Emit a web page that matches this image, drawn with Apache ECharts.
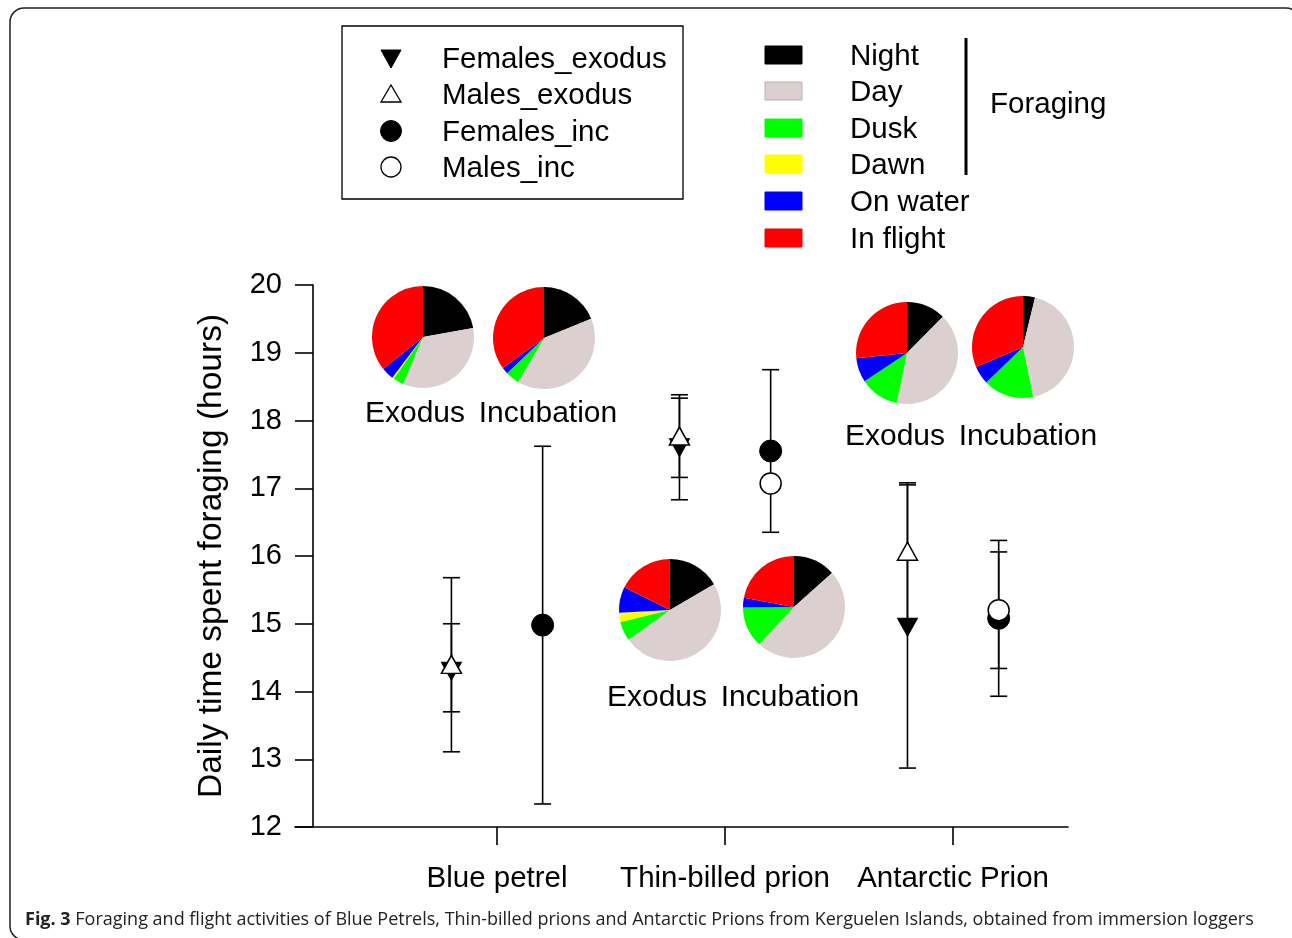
<!DOCTYPE html>
<html>
<head>
<meta charset="utf-8">
<script src="https://cdn.jsdelivr.net/npm/echarts@6/dist/echarts.min.js"></script>
<style>
html,body{margin:0;padding:0;background:#fff;}
#main{width:1292px;height:938px;}
</style>
</head>
<body>
<div id="main"></div>
<script>
// ---------- data ----------
const categories = ['Blue petrel', 'Thin-billed prion', 'Antarctic Prion'];
const yTicks = [12, 13, 14, 15, 16, 17, 18, 19, 20];

const femalesExodus     = [14.30, 17.60, 14.95];
const femalesExodusLow  = [13.70, 16.83, 12.87];
const femalesExodusHigh = [15.00, 18.38, 17.05];

const malesExodus     = [14.40, 17.77, 16.07];
const malesExodusLow  = [13.11, 17.16, 15.07];
const malesExodusHigh = [15.68, 18.33, 17.08];

const femalesInc     = [14.98, 17.55, 15.08];
const femalesIncLow  = [12.34, 16.35, 13.93];
const femalesIncHigh = [17.62, 18.75, 16.23];

const malesInc     = [null, 17.07, 15.20];
const malesIncLow  = [null, null, 14.34];
const malesIncHigh = [null, null, 16.06];

const activityNames = ['Night', 'Day', 'Dusk', 'Dawn', 'On water', 'In flight'];
const blueExodusPie       = [22.2, 34.2, 3.3, 0.6, 3.9, 35.8];
const blueIncubationPie   = [18.8, 39.6, 4.4, 0.0, 2.1, 35.0];
const thinExodusPie       = [16.6, 48.6, 6.1, 2.9, 8.2, 17.7];
const thinIncubationPie   = [13.4, 48.6, 12.9, 0.0, 3.1, 22.1];
const antExodusPie        = [12.4, 40.9, 12.4, 0.0, 7.7, 26.7];
const antIncubationPie    = [3.8, 43.0, 16.0, 0.0, 5.8, 31.4];

const markerLegend = ['Females_exodus', 'Males_exodus', 'Females_inc', 'Males_inc'];
const pieLabels = ['Exodus', 'Incubation'];
const foragingLabel = 'Foraging';
const yAxisTitle = 'Daily time spent foraging (hours)';
const captionBold = 'Fig. 3';
const captionText = 'Foraging and flight activities of Blue Petrels, Thin-billed prions and Antarctic Prions from Kerguelen Islands, obtained from immersion loggers';

// ---------- styles ----------
const FONT = '"Liberation Sans", Arial, sans-serif';
const activityColors = ['#000000', '#DCCFCF', '#00FF00', '#FFFF00', '#0000FF', '#FF0000'];
const SHIFT = 0.2; // horizontal offset of exodus / incubation groups

function pts(vals, shift) {
  const out = [];
  vals.forEach((v, i) => { if (v != null) out.push([i + 1 + shift, v]); });
  return out;
}
function bars(lows, highs, shift) {
  const out = [];
  lows.forEach((l, i) => { if (l != null && highs[i] != null) out.push([i + 1 + shift, l, highs[i]]); });
  return out;
}
function errSeries(data) {
  return {
    type: 'custom',
    z: 2,
    silent: true,
    data: data,
    encode: { x: 0, y: [1, 2] },
    renderItem: function (params, api) {
      const x = api.value(0);
      const lo = api.coord([x, api.value(1)]);
      const hi = api.coord([x, api.value(2)]);
      const w = 8.5;
      const st = { stroke: '#000', lineWidth: 1.6 };
      return {
        type: 'group',
        children: [
          { type: 'line', shape: { x1: lo[0], y1: lo[1], x2: hi[0], y2: hi[1] }, style: st },
          { type: 'line', shape: { x1: lo[0] - w, y1: lo[1], x2: lo[0] + w, y2: lo[1] }, style: st },
          { type: 'line', shape: { x1: hi[0] - w, y1: hi[1], x2: hi[0] + w, y2: hi[1] }, style: st }
        ]
      };
    }
  };
}
function pieSeries(vals, cx, cy) {
  return {
    type: 'pie',
    center: [cx, cy],
    radius: 51,
    startAngle: 90,
    clockwise: true,
    silent: true,
    label: { show: false },
    labelLine: { show: false },
    itemStyle: { borderWidth: 0 },
    data: vals.map((v, i) => ({ name: activityNames[i], value: v, itemStyle: { color: activityColors[i] } }))
  };
}
function txt(x, y, text, size, align) {
  return { type: 'text', x: x, y: y, style: { text: text, font: size + 'px ' + FONT, fill: '#000', align: align || 'left', verticalAlign: 'middle' } };
}

const graphics = [];
// outer frame
graphics.push({ type: 'rect', shape: { x: 10, y: 8, width: 1290, height: 932, r: 14 }, style: { fill: 'none', stroke: '#222', lineWidth: 1.5 } });
// marker legend box
graphics.push({ type: 'rect', shape: { x: 342, y: 26, width: 341, height: 173 }, style: { fill: 'none', stroke: '#000', lineWidth: 1.3 } });
const legRows = [60, 96, 133, 169];
// down filled triangle
graphics.push({ type: 'polygon', shape: { points: [[381, 50], [401, 50], [391, 68]] }, style: { fill: '#000', stroke: '#000', lineWidth: 1 } });
// up open triangle
graphics.push({ type: 'polygon', shape: { points: [[381, 102], [401, 102], [391, 85]] }, style: { fill: '#fff', stroke: '#000', lineWidth: 1.3 } });
graphics.push({ type: 'circle', shape: { cx: 391, cy: 131, r: 10.5 }, style: { fill: '#000', stroke: '#000' } });
graphics.push({ type: 'circle', shape: { cx: 391, cy: 167, r: 10 }, style: { fill: '#fff', stroke: '#000', lineWidth: 1.3 } });
markerLegend.forEach((t, i) => graphics.push(txt(442, legRows[i], t, 29.5)));
// color legend
const colRows = [55, 91, 128, 164, 201, 238];
activityNames.forEach((n, i) => {
  graphics.push({ type: 'rect', shape: { x: 765, y: colRows[i] - 9, width: 37, height: 18 }, style: { fill: activityColors[i], stroke: i === 1 ? '#b9aeae' : activityColors[i], lineWidth: 1 } });
  graphics.push(txt(850, colRows[i] + 2, n, 29.5));
});
graphics.push({ type: 'line', shape: { x1: 966, y1: 38, x2: 966, y2: 175 }, style: { stroke: '#000', lineWidth: 3 } });
graphics.push(txt(990, 105, foragingLabel, 29.5));
// pie labels
graphics.push(txt(415, 414, pieLabels[0], 30, 'center'));
graphics.push(txt(548, 414, pieLabels[1], 30, 'center'));
graphics.push(txt(657, 698, pieLabels[0], 30, 'center'));
graphics.push(txt(790, 698, pieLabels[1], 30, 'center'));
graphics.push(txt(895, 437, pieLabels[0], 30, 'center'));
graphics.push(txt(1028, 437, pieLabels[1], 30, 'center'));
// caption
graphics.push({
  type: 'text', x: 25, y: 920,
  style: {
    text: '{b|' + captionBold + '} ' + captionText,
    font: '18px "Open Sans", sans-serif', fill: '#222', verticalAlign: 'middle',
    rich: { b: { font: 'bold 18px "Open Sans", sans-serif', fill: '#222' } }
  }
});

const chart = echarts.init(document.getElementById('main'));
chart.setOption({
  backgroundColor: '#fff',
  animation: false,
  grid: { left: 295, top: 285, right: 224, bottom: 111, containLabel: false },
  xAxis: {
    type: 'value',
    min: 0.114,
    max: 3.504,
    axisLine: { show: true, onZero: false, lineStyle: { color: '#000', width: 1.6 } },
    axisTick: { show: true, customValues: [1, 2, 3], length: 18, lineStyle: { color: '#000', width: 1.6 } },
    axisLabel: {
      show: true, customValues: [1, 2, 3], margin: 37,
      formatter: v => categories[Math.round(v) - 1] || '',
      color: '#000', fontSize: 29.5, fontFamily: FONT
    },
    splitLine: { show: false }
  },
  yAxis: {
    type: 'value',
    min: 12, max: 20, interval: 1,
    offset: -18,
    name: yAxisTitle,
    nameLocation: 'middle',
    nameGap: 84,
    nameRotate: 90,
    nameTextStyle: { color: '#000', fontSize: 33.5, fontFamily: FONT },
    axisLine: { show: true, onZero: false, lineStyle: { color: '#000', width: 1.6 } },
    axisTick: { show: true, length: 18, lineStyle: { color: '#000', width: 1.6 } },
    axisLabel: { margin: 31, color: '#000', fontSize: 29, fontFamily: FONT },
    splitLine: { show: false }
  },
  graphic: graphics,
  series: [
    errSeries(bars(femalesExodusLow, femalesExodusHigh, -SHIFT)),
    errSeries(bars(malesExodusLow, malesExodusHigh, -SHIFT)),
    errSeries(bars(femalesIncLow, femalesIncHigh, SHIFT)),
    errSeries(bars(malesIncLow, malesIncHigh, SHIFT)),
    { name: markerLegend[0], type: 'scatter', z: 3, data: pts(femalesExodus, -SHIFT), symbol: 'triangle', symbolRotate: 180, symbolSize: [20, 18], itemStyle: { color: '#000', borderColor: '#000', borderWidth: 1, opacity: 1 } },
    { name: markerLegend[1], type: 'scatter', z: 4, data: pts(malesExodus, -SHIFT), symbol: 'triangle', symbolSize: [20, 18], itemStyle: { color: '#fff', borderColor: '#000', borderWidth: 1.5, opacity: 1 } },
    { name: markerLegend[2], type: 'scatter', z: 3, data: pts(femalesInc, SHIFT), symbol: 'circle', symbolSize: 22, itemStyle: { color: '#000', borderColor: '#000', borderWidth: 1, opacity: 1 } },
    { name: markerLegend[3], type: 'scatter', z: 4, data: pts(malesInc, SHIFT), symbol: 'circle', symbolSize: 21, itemStyle: { color: '#fff', borderColor: '#000', borderWidth: 1.5, opacity: 1 } },
    pieSeries(blueExodusPie, 423, 337),
    pieSeries(blueIncubationPie, 544, 338),
    pieSeries(thinExodusPie, 670, 610),
    pieSeries(thinIncubationPie, 794, 607),
    pieSeries(antExodusPie, 907, 353),
    pieSeries(antIncubationPie, 1023, 347)
  ]
});
</script>
</body>
</html>
